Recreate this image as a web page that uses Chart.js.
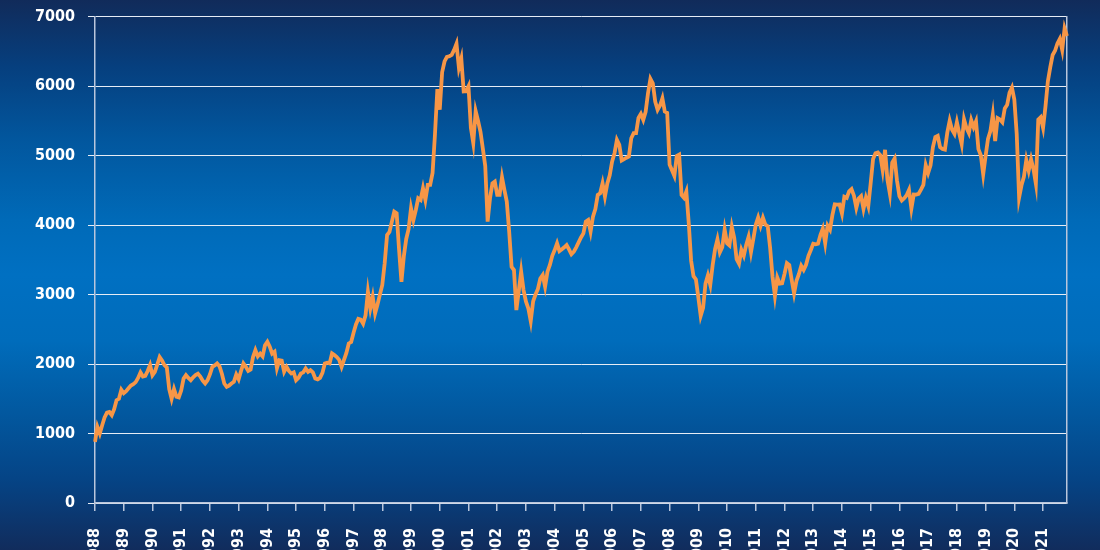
<!DOCTYPE html>
<html>
<head>
<meta charset="utf-8">
<script src="https://cdn.jsdelivr.net/npm/chart.js@4/dist/chart.umd.min.js"></script>
<style>
  html, body { margin: 0; padding: 0; width: 1100px; height: 550px; overflow: hidden; }
  body {
    background: linear-gradient(to bottom,
      #112b5a 0%, #063f7e 12%, #02569d 25%, #006ab8 40%, #0070c2 50%,
      #006cbb 62%, #02589f 75%, #054486 87%, #112c5c 100%);
  }
  #wrap { position: absolute; left: 0; top: -6px; width: 1100px; height: 583px; }
</style>
</head>
<body>
<div id="wrap"><canvas id="c"></canvas></div>
<script>
// Monthly index values, January 1988 to November 2021
const firstYear = 1988;
const lastYear = 2021;
const values = [
  // 1988
  880, 1095, 1000, 1120, 1230, 1300, 1310, 1265, 1350, 1480, 1500, 1630,
  // 1989
  1580, 1610, 1650, 1690, 1710, 1740, 1800, 1880, 1820, 1830, 1900, 1985,
  // 1990
  1840, 1888, 1990, 2100, 2050, 1984, 1950, 1640, 1500, 1640, 1530, 1520,
  // 1991
  1620, 1790, 1840, 1800, 1767, 1810, 1840, 1860, 1820, 1760, 1720, 1767,
  // 1992
  1850, 1960, 1980, 2008, 1970, 1860, 1719, 1671, 1690, 1719, 1743, 1850,
  // 1993
  1780, 1900, 2008, 1960, 1900, 1920, 2100, 2200, 2110, 2150, 2110, 2270,
  // 1994
  2320, 2250, 2150, 2176, 1940, 2056, 2050, 1890, 1960, 1900, 1864, 1880,
  // 1995
  1767, 1800, 1864, 1880, 1936, 1888, 1912, 1880, 1791, 1780, 1800, 1872,
  // 1996
  2008, 2020, 2010, 2152, 2128, 2100, 2060, 1960, 2060, 2160, 2296, 2316,
  // 1997
  2450, 2569, 2650, 2640, 2580, 2700, 3041, 2800, 2968, 2728, 2855, 2999,
  // 1998
  3137, 3450, 3857, 3900, 4049, 4193, 4169, 3650, 3184, 3550, 3800, 3943,
  // 1999
  4241, 4073, 4217, 4385, 4361, 4529, 4361, 4577, 4577, 4750, 5300, 5958,
  // 2000
  5660, 6200, 6354, 6420, 6430, 6450, 6520, 6610, 6266, 6399, 5922, 5926,
  // 2001
  5998, 5400, 5180, 5640, 5500, 5346, 5100, 4850, 4049, 4385, 4600, 4625,
  // 2002
  4433, 4433, 4688, 4505, 4337, 3905, 3400, 3353, 2777, 3050, 3329, 3064,
  // 2003
  2900, 2800, 2618, 2900, 3000, 3080, 3232, 3281, 3113, 3329, 3425, 3558,
  // 2004
  3640, 3737, 3625, 3650, 3680, 3713, 3650, 3580, 3617, 3680, 3750, 3821,
  // 2005
  3880, 4049, 4073, 3905, 4121, 4230, 4433, 4457, 4601, 4409, 4600, 4715,
  // 2006
  4914, 5034, 5226, 5154, 4930, 4950, 4970, 4986, 5250, 5322, 5322, 5542,
  // 2007
  5600, 5514, 5630, 5900, 6104, 6040, 5778, 5658, 5720, 5826, 5634, 5614,
  // 2008
  4869, 4790, 4707, 4996, 5014, 4434, 4392, 4483, 4032, 3487, 3263, 3218,
  // 2009
  2962, 2693, 2807, 3159, 3278, 3140, 3426, 3653, 3795, 3607, 3680, 3936,
  // 2010
  3739, 3708, 3974, 3816, 3508, 3443, 3643, 3560, 3715, 3833, 3610, 3805,
  // 2011
  4005, 4110, 3989, 4106, 4007, 3982, 3672, 3256, 2982, 3243, 3155, 3160,
  // 2012
  3298, 3452, 3424, 3213, 3017, 3197, 3292, 3414, 3355, 3429, 3557, 3641,
  // 2013
  3732, 3723, 3731, 3856, 3949, 3739, 3992, 3934, 4143, 4299, 4295, 4296,
  // 2014
  4165, 4408, 4392, 4487, 4519, 4423, 4247, 4381, 4416, 4233, 4390, 4273,
  // 2015
  4604, 4951, 5034, 5046, 5008, 4790, 5083, 4653, 4455, 4898, 4957, 4637,
  // 2016
  4417, 4354, 4385, 4429, 4506, 4237, 4440, 4438, 4448, 4509, 4578, 4862,
  // 2017
  4749, 4858, 5123, 5267, 5284, 5121, 5094, 5086, 5330, 5503, 5373, 5313,
  // 2018
  5482, 5320, 5167, 5521, 5398, 5324, 5511, 5407, 5493, 5093, 5004, 4731,
  // 2019
  4993, 5241, 5351, 5586, 5208, 5539, 5519, 5480, 5678, 5730, 5905, 5978,
  // 2020
  5806, 5309, 4396, 4572, 4695, 4936, 4784, 4947, 4803, 4594, 5518, 5551,
  // 2021
  5399, 5703, 6067, 6269, 6447, 6508, 6613, 6680, 6520, 6830, 6721
];
const yTicks = [0, 1000, 2000, 3000, 4000, 5000, 6000, 7000];

// month categories "YYYY-MM"
const months = [];
for (let y = firstYear; y <= lastYear; y++) {
  for (let m = 1; m <= 12; m++) {
    if (months.length < values.length) months.push(y + '-' + String(m).padStart(2, '0'));
  }
}

const FONT = '"DejaVu Sans Condensed", "DejaVu Sans", sans-serif';
const axisColor = '#b9c6dc';

new Chart(document.getElementById('c'), {
  type: 'line',
  data: {
    labels: months,
    datasets: [{
      data: values,
      borderColor: '#f79646',
      borderWidth: 3.8,
      pointRadius: 0,
      pointHoverRadius: 0,
      tension: 0,
      fill: false
    }]
  },
  options: {
    responsive: true,
    maintainAspectRatio: false,
    animation: false,
    events: [],
    layout: { padding: { left: 35, right: 33, top: 0, bottom: 0 } },
    plugins: { legend: { display: false }, tooltip: { enabled: false } },
    scales: {
      x: {
        type: 'category',
        offset: false,
        afterFit: (axis) => { axis.height = 74; },
        border: { display: true, color: axisColor, width: 1.5 },
        grid: {
          drawOnChartArea: false,
          drawTicks: true,
          tickLength: 8,
          color: axisColor,
          lineWidth: 1.5
        },
        ticks: {
          autoSkip: false,
          maxRotation: 90,
          minRotation: 90,
          padding: 17,
          color: '#ffffff',
          font: { family: FONT, size: 16, weight: 'bold' },
          callback: function (value) {
            const lab = this.getLabelForValue(value);
            return lab.endsWith('-01') ? lab.slice(0, 4) : null;
          }
        }
      },
      y: {
        min: 0,
        max: 7000,
        afterFit: (axis) => { axis.width = 60; },
        afterBuildTicks: (axis) => { axis.ticks = yTicks.map(v => ({ value: v })); },
        border: { display: true, color: axisColor, width: 1.5 },
        grid: {
          color: '#e6ecf5',
          lineWidth: 1,
          drawTicks: true,
          tickLength: 7
        },
        ticks: {
          padding: 13,
          color: '#ffffff',
          font: { family: FONT, size: 16, weight: 'bold' },
          callback: (v) => String(v)
        }
      },
      y2: {
        position: 'right',
        min: 0,
        max: 7000,
        afterFit: (axis) => { axis.width = 0; },
        border: { display: true, color: axisColor, width: 1.5 },
        grid: { display: false, drawTicks: false },
        ticks: { display: false }
      }
    }
  }
});
</script>
</body>
</html>
